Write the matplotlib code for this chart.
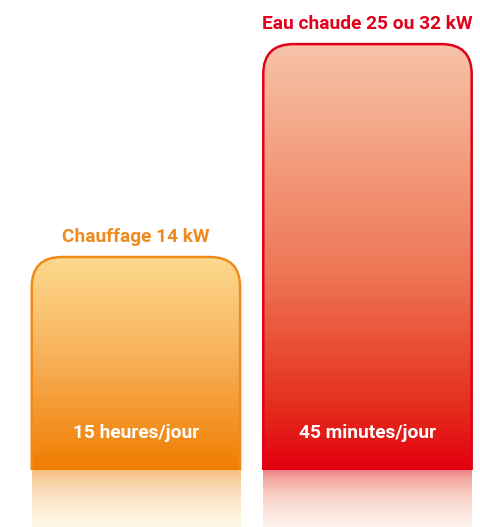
import numpy as np
import matplotlib
matplotlib.use("Agg")
import matplotlib.pyplot as plt
from matplotlib.patches import FancyBboxPatch
from matplotlib.transforms import Bbox, TransformedBbox
from matplotlib.colors import LinearSegmentedColormap

# Data
categories = ["Chauffage 14 kW", "Eau chaude 25 ou 32 kW"]
values = [14, 28]
inner_labels = ["15 heures/jour", "45 minutes/jour"]

# Colours
edge_colors = ["#F08A1A", "#E2001A"]
title_colors = ["#EF8A1E", "#E2001A"]
gradients = [
    [(0.0, "#FDD98E"), (0.5, "#F7AE55"), (1.0, "#F07D00")],
    [(0.0, "#F7C3AA"), (0.25, "#F3A080"), (0.54, "#EE7555"), (0.83, "#E5341F"), (1.0, "#E3000F")],
]

plt.rcParams["font.family"] = ["Roboto", "DejaVu Sans"]

fig = plt.figure(figsize=(4.8, 5.27), dpi=100)
ax = fig.add_axes([0, 0, 1, 1])
ax.set_xlim(-0.587, 1.486)
ax.set_ylim(-3.75, 30.9)
ax.axis("off")

width = 0.9
x = np.arange(len(values))

# aspect so the rounded corners are circular on screen
px_x = ax.transData.transform((1, 0))[0] - ax.transData.transform((0, 0))[0]
px_y = ax.transData.transform((0, 1))[1] - ax.transData.transform((0, 0))[1]
aspect = px_x / px_y
radius = 30 / px_x

above = TransformedBbox(Bbox([[-10, 0], [10, 100]]), ax.transData)

for i, (xc, v) in enumerate(zip(x, values)):
    x0 = xc - width / 2
    cmap = LinearSegmentedColormap.from_list("g%d" % i, gradients[i])
    grad = np.linspace(0, 1, 256).reshape(-1, 1)

    # shape: rounded box extended below the baseline, clipped at y = 0
    def shape():
        return FancyBboxPatch((x0, -5), width, v + 5,
                              boxstyle="round,pad=0,rounding_size=%f" % radius,
                              mutation_aspect=aspect, transform=ax.transData)

    clip = shape()
    im = ax.imshow(grad, cmap=cmap, aspect="auto", extent=(x0, x0 + width, 0, v),
                   origin="upper", zorder=1)
    im.set_clip_path(clip)
    im.set_clip_box(above)

    outline = shape()
    outline.set_facecolor("none")
    outline.set_edgecolor(edge_colors[i])
    outline.set_linewidth(1.8)
    outline.set_zorder(2)
    ax.add_patch(outline)
    outline.set_clip_box(above)

    # reflection below the baseline: mirrored gradient, fading out
    t = np.linspace(0, 1, 128)
    refl = cmap(1 - t).reshape(-1, 1, 4)
    refl[:, 0, 3] = 0.55 - 0.33 * t ** 0.6
    ax.imshow(refl, aspect="auto", extent=(x0, x0 + width, -3.75, 0),
              origin="upper", zorder=1)

    ax.text(xc, v + 1.3, categories[i], ha="center", va="center",
            fontsize=13.8, fontweight="bold", color=title_colors[i])
    ax.text(xc, 2.45, inner_labels[i], ha="center", va="center",
            fontsize=13.8, fontweight="bold", color="white")

ax.set_xlim(-0.587, 1.486)
ax.set_ylim(-3.75, 30.9)

fig.savefig("out.png", dpi=100)
